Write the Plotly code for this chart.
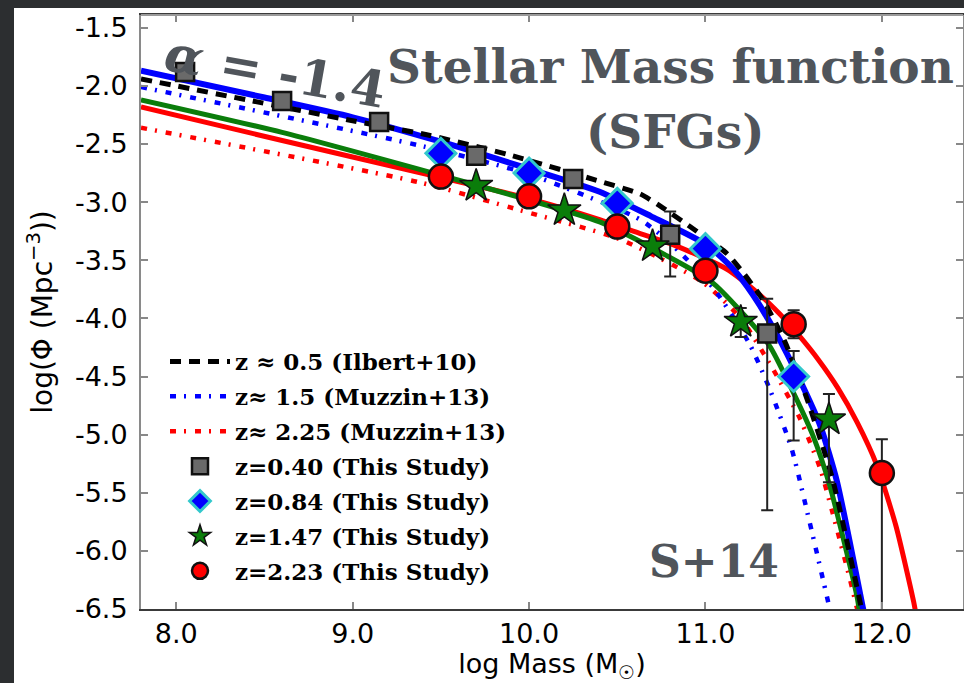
import plotly.graph_objects as go

# ---------------- data ----------------
# Schechter-fit curves (log Mass, log Phi)
ilbert_x = [7.80, 8.40, 9.00, 9.42, 9.88, 10.40, 10.63, 10.74, 10.95, 11.12, 11.21, 11.33, 11.45, 11.575, 11.72, 11.875, 11.90]
ilbert_y = [-1.94, -2.12, -2.30, -2.42, -2.59, -2.82, -2.93, -3.03, -3.25, -3.44, -3.60, -3.85, -4.20, -4.69, -5.38, -6.43, -6.62]

muz15_x = [7.80, 9.40, 10.00, 10.63, 10.82, 11.05, 11.25, 11.37, 11.49, 11.59, 11.694, 11.72]
muz15_y = [-2.01, -2.52, -2.76, -3.15, -3.38, -3.75, -4.22, -4.63, -5.13, -5.75, -6.43, -6.62]

muz225_x = [7.80, 9.38, 9.95, 10.516, 10.986, 11.20, 11.38, 11.535, 11.65, 11.722, 11.82, 11.86, 11.88]
muz225_y = [-2.36, -2.83, -3.07, -3.32, -3.69, -4.00, -4.43, -4.86, -5.29, -5.68, -6.25, -6.50, -6.62]

fit084_x = [7.80, 8.50, 9.00, 9.50, 9.95, 10.40, 10.69, 11.01, 11.16, 11.27, 11.405, 11.535, 11.65, 11.745, 11.89, 11.91]
fit084_y = [-1.87, -2.10, -2.27, -2.48, -2.69, -2.91, -3.12, -3.37, -3.58, -3.80, -4.14, -4.53, -4.92, -5.40, -6.47, -6.62]

fit147_x = [7.80, 8.60, 9.42, 9.95, 10.40, 10.78, 11.03, 11.195, 11.365, 11.48, 11.61, 11.705, 11.86, 11.88]
fit147_y = [-2.12, -2.40, -2.735, -2.96, -3.17, -3.46, -3.68, -3.93, -4.24, -4.58, -5.01, -5.44, -6.40, -6.60]

fit223_x = [7.80, 8.60, 9.42, 10.00, 10.40, 10.59, 10.84, 11.12, 11.31, 11.42, 11.53, 11.64, 11.75, 11.86, 11.97, 12.08, 12.18, 12.20]
fit223_y = [-2.18, -2.47, -2.76, -2.97, -3.15, -3.25, -3.38, -3.575, -3.80, -3.96, -4.147, -4.356, -4.598, -4.895, -5.258, -5.786, -6.436, -6.60]

# Data points (This Study)
z040_x = [8.05, 8.60, 9.15, 9.70, 10.25, 10.80, 11.35]
z040_y = [-1.88, -2.13, -2.31, -2.60, -2.80, -3.28, -4.13]
z040_up = [0, 0, 0, 0, 0, 0.20, 0.30]
z040_dn = [0, 0, 0, 0, 0, 0.36, 1.52]

z084_x = [9.50, 10.00, 10.50, 11.00, 11.50]
z084_y = [-2.58, -2.75, -3.01, -3.40, -4.50]
z084_up = [0, 0, 0, 0, 0.22]
z084_dn = [0, 0, 0, 0, 0.55]

z147_x = [9.70, 10.20, 10.70, 11.20, 11.70]
z147_y = [-2.86, -3.07, -3.38, -4.03, -4.87]
z147_up = [0, 0, 0, 0.12, 0.22]
z147_dn = [0, 0, 0, 0.13, 0.54]

z223_x = [9.50, 10.00, 10.50, 11.00, 11.50, 12.00]
z223_y = [-2.78, -2.95, -3.21, -3.59, -4.05, -5.33]
z223_up = [0, 0, 0, 0, 0.12, 0.29]
z223_dn = [0, 0, 0, 0, 0.12, 1.50]

x_ticks = [8.0, 9.0, 10.0, 11.0, 12.0]
y_ticks = [-6.5, -6.0, -5.5, -5.0, -4.5, -4.0, -3.5, -3.0, -2.5, -2.0, -1.5]
x_ticklabels = [f"{v:.1f}" for v in x_ticks]
y_ticklabels = [f"{v:.1f}" for v in y_ticks]

# ---------------- figure ----------------
fig = go.Figure()

def curve(x, y, color, width, dash, name, show, rank):
    fig.add_trace(go.Scatter(
        x=x, y=y, mode="lines", name=name, showlegend=show,
        legendgroup=name, legendrank=rank,
        line=dict(color=color, width=width, dash=dash, shape="spline", smoothing=0.6),
        hoverinfo="skip"))

curve(muz225_x, muz225_y, "#ff0000", 4.5, "6px,8px,2px,9px", "z\u2248 2.25 (Muzzin+13)", True, 3)
curve(muz15_x, muz15_y, "#0000ff", 4.5, "6px,8px,2px,9px", "z\u2248 1.5 (Muzzin+13)", True, 2)
curve(fit223_x, fit223_y, "#ff0000", 5, "solid", "fit223", False, 20)
curve(fit147_x, fit147_y, "#0a7d0a", 5, "solid", "fit147", False, 21)
curve(fit084_x, fit084_y, "#0000ff", 6, "solid", "fit084", False, 22)
curve(ilbert_x, ilbert_y, "#000000", 5, "11px,8px", "z \u2248 0.5 (Ilbert+10)", True, 1)

def points(x, y, up, dn, symbol, size, fill, edge, edgew, name, rank):
    fig.add_trace(go.Scatter(
        x=x, y=y, mode="markers", name=name, legendgroup=name, legendrank=rank,
        marker=dict(symbol=symbol, size=size, color=fill, line=dict(color=edge, width=edgew)),
        error_y=dict(type="data", symmetric=False, array=up, arrayminus=dn,
                     color="#222222", thickness=2, width=6)))

points(z040_x, z040_y, z040_up, z040_dn, "square", 18, "#6a6a6a", "#111111", 2.5, "z=0.40 (This Study)", 4)
points(z084_x, z084_y, z084_up, z084_dn, "diamond", 23, "#0000ff", "#33c8cc", 3, "z=0.84 (This Study)", 5)
points(z147_x, z147_y, z147_up, z147_dn, "star", 25, "#0a7d0a", "#111111", 1.5, "z=1.47 (This Study)", 6)
points(z223_x, z223_y, z223_up, z223_dn, "circle", 24, "#ff0000", "#111111", 2.5, "z=2.23 (This Study)", 7)

L, R, T, B = 141, 1, 15, 74
W, H = 964, 683
pw, ph = W - L - R, H - T - B

def px_x(px):
    return (px - L) / pw

def px_y(py):
    return 1 - (py - T) / ph

dark = "#2c2e30"
shapes = [
    # dark slide frame: left and top strips
    dict(type="rect", xref="paper", yref="paper", layer="above",
         x0=px_x(-4), x1=px_x(14), y0=px_y(H + 4), y1=px_y(-4),
         fillcolor=dark, line=dict(width=0)),
    dict(type="rect", xref="paper", yref="paper", layer="above",
         x0=px_x(-4), x1=px_x(W + 4), y0=px_y(8), y1=px_y(-4),
         fillcolor=dark, line=dict(width=0)),
    dict(type="line", xref="paper", yref="paper", layer="above",
         x0=0, x1=1, y0=1, y1=1, line=dict(color="#9a9a9a", width=2)),
]

slab = dict(family="DejaVu Serif", color="#50555b", weight="bold")
annotations = [
    dict(text="Stellar Mass function", x=px_x(670), y=px_y(66), xref="paper", yref="paper",
         showarrow=False, xanchor="center", yanchor="middle", font=dict(size=47, **slab)),
    dict(text="(SFGs)", x=px_x(675), y=px_y(131), xref="paper", yref="paper",
         showarrow=False, xanchor="center", yanchor="middle", font=dict(size=47, **slab)),
    dict(text="<i>\u03b1</i> = -1.4", x=px_x(275), y=px_y(71), xref="paper", yref="paper",
         showarrow=False, xanchor="center", yanchor="middle", textangle=10,
         font=dict(size=50, **slab)),
    dict(text="S+14", x=px_x(714), y=px_y(561), xref="paper", yref="paper",
         showarrow=False, xanchor="center", yanchor="middle", font=dict(size=44, **slab)),
]

axis_font = dict(family="DejaVu Sans", size=27, color="#000000")

fig.update_layout(
    width=W, height=H,
    margin=dict(l=L, r=R, t=T, b=B, pad=0),
    paper_bgcolor="#ffffff", plot_bgcolor="#ffffff",
    shapes=shapes, annotations=annotations,
    showlegend=True,
    legend=dict(x=px_x(165), y=px_y(340), xanchor="left", yanchor="top",
                bgcolor="rgba(0,0,0,0)", borderwidth=0,
                font=dict(family="DejaVu Serif", size=23, color="#000000", weight="bold"),
                itemwidth=60, tracegroupgap=2, traceorder="grouped"),
    xaxis=dict(range=[7.80, 12.46], tickmode="array", tickvals=x_ticks, ticktext=x_ticklabels,
               ticks="inside", ticklen=7, tickwidth=1.5, tickcolor="#888888",
               showline=True, linecolor="#3a3a3a", linewidth=2, mirror="ticks",
               showgrid=False, zeroline=False, tickfont=axis_font, automargin=False,
               title=dict(text="log Mass (M<sub>\u2609</sub>)", font=dict(family="DejaVu Sans", size=27, color="#000000"), standoff=13)),
    yaxis=dict(range=[-6.5, -1.39], tickmode="array", tickvals=y_ticks, ticktext=y_ticklabels,
               ticks="inside", ticklen=7, tickwidth=1.5, tickcolor="#888888",
               showline=True, linecolor="#8a8a8a", linewidth=2, mirror="ticks",
               showgrid=False, zeroline=False, tickfont=axis_font, ticklabelstandoff=6, automargin=False,
               title=dict(text="log(\u03a6 (Mpc<sup>\u22123</sup>))", font=dict(family="DejaVu Sans", size=28, color="#000000"), standoff=14)),
)

fig.write_html("out.html")
